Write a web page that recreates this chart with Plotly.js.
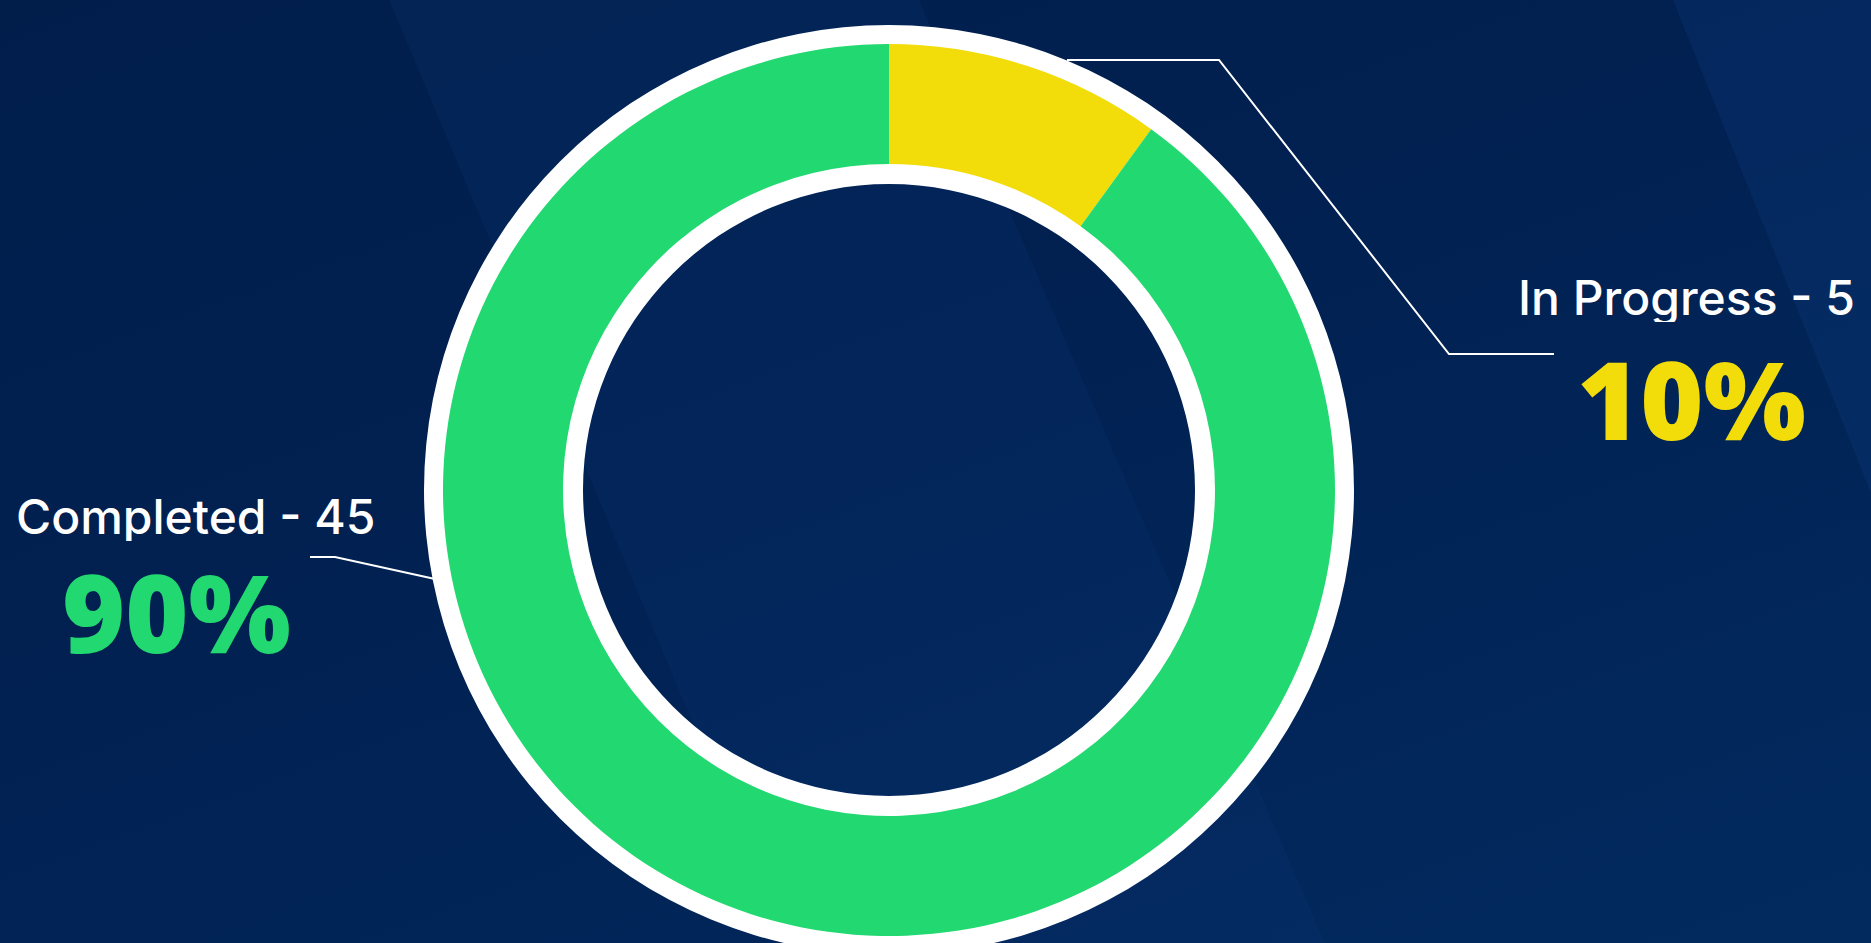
<!DOCTYPE html>
<html>
<head>
<meta charset="utf-8">
<script src="https://cdn.plot.ly/plotly-3.0.1.min.js"></script>
<style>
  html, body { margin: 0; padding: 0; overflow: hidden; width: 1871px; height: 943px;
    background: linear-gradient(160deg, #011e4b 0%, #012152 45%, #022a5f 100%); }
  #chart { width: 1871px; height: 1000px; }
</style>
</head>
<body>
<div id="chart"></div>
<script>
// ---- data ----
const categories = ["In Progress", "Completed"];
const counts = [5, 45];
const sliceColors = ["#f2dc0a", "#22d870"];

// ---- geometry (pixels) ----
const W = 1871, H = 1000;
const CX = 889, CY = 490;
const R_OUTER_WHITE = 465, R_DATA = 446, R_DATA_HOLE = 326, R_INNER_WHITE = 306;

const px = x => x / W;
const py = y => 1 - y / H;
function domainFor(r) {
  return { x: [px(CX - r), px(CX + r)], y: [py(CY + r), py(CY - r)] };
}

const total = counts.reduce((a, b) => a + b, 0);
const pct = counts.map(v => Math.round(v / total * 100) + "%");

const ringTrace = {
  type: "pie", values: [1], labels: ["ring"], sort: false,
  marker: { colors: ["#ffffff"], line: { width: 0 } },
  hole: R_INNER_WHITE / R_OUTER_WHITE, domain: domainFor(R_OUTER_WHITE),
  textinfo: "none", hoverinfo: "skip", showlegend: false
};
const dataTrace = {
  type: "pie", labels: categories, values: counts, sort: false,
  direction: "clockwise", rotation: 0,
  marker: { colors: sliceColors, line: { width: 0 } },
  hole: R_DATA_HOLE / R_DATA, domain: domainFor(R_DATA),
  textinfo: "none", hovertemplate: "%{label}: %{value} (%{percent})<extra></extra>",
  showlegend: false
};

function pathPx(points) {
  return points.map((p, i) => (i ? "L" : "M") + px(p[0]).toFixed(5) + "," + py(p[1]).toFixed(5)).join(" ");
}

const leaderLines = [
  [[1067, 60], [1219, 60], [1449, 354], [1554, 354]],
  [[310, 557], [335, 557], [435, 579]]
];

const bgShapes = [
  { path: pathPx([[389, 0], [919, 0], [1325, 943], [785, 943]]), fillcolor: "rgba(20,60,130,0.16)" },
  { path: pathPx([[1673, 0], [1871, 0], [1871, 493]]), fillcolor: "rgba(20,70,140,0.22)" }
].map(s => ({ type: "path", xref: "paper", yref: "paper", path: s.path,
  fillcolor: s.fillcolor, line: { width: 0 }, layer: "below" }));

const lineShapes = leaderLines.map(pts => ({
  type: "path", xref: "paper", yref: "paper", path: pathPx(pts),
  line: { color: "#ffffff", width: 2 }
}));

const labelFont = { family: "Inter, sans-serif", size: 48, color: "#ffffff", weight: 500 };
const pctFontBase = { family: "'Open Sans', sans-serif", size: 108, weight: 800 };

const annotations = [
  { text: categories[1] + " - " + counts[1], x: px(15), y: py(516), xanchor: "left", yanchor: "middle", height: 50, font: labelFont },
  { text: pct[1], x: px(176), y: py(611), xanchor: "center", yanchor: "middle", height: 86,
    font: Object.assign({}, pctFontBase, { color: sliceColors[1] }) },
  { text: categories[0] + " - " + counts[0], x: px(1856), y: py(297), xanchor: "right", yanchor: "middle", height: 50, font: labelFont },
  { text: pct[0], x: px(1691), y: py(398), xanchor: "center", yanchor: "middle", height: 86,
    font: Object.assign({}, pctFontBase, { color: sliceColors[0] }) }
].map(a => Object.assign({ xref: "paper", yref: "paper", showarrow: false, borderpad: 0 }, a));

const layout = {
  width: W, height: H,
  margin: { l: 0, r: 0, t: 0, b: 0 },
  paper_bgcolor: "rgba(0,0,0,0)", plot_bgcolor: "rgba(0,0,0,0)",
  showlegend: false,
  shapes: bgShapes.concat(lineShapes),
  annotations: annotations
};

Plotly.newPlot("chart", [ringTrace, dataTrace], layout, { displayModeBar: false });
</script>
</body>
</html>
